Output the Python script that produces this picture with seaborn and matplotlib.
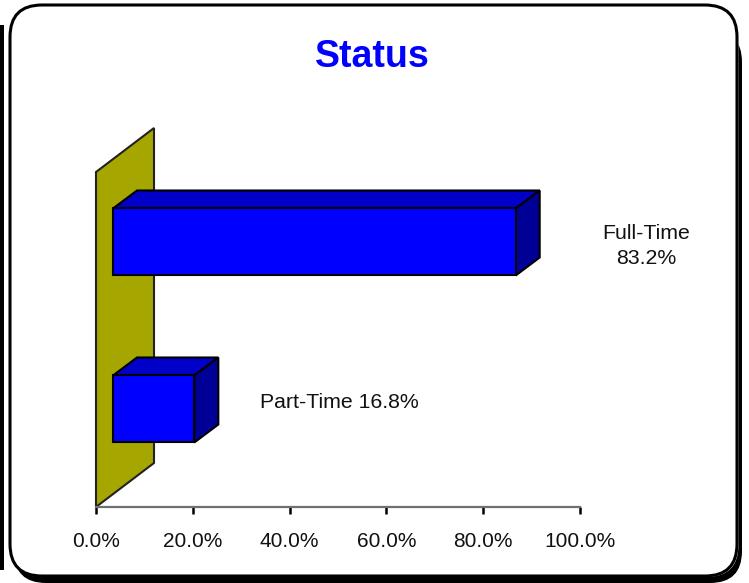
import matplotlib
matplotlib.use("Agg")
import matplotlib.pyplot as plt
from matplotlib.patches import FancyBboxPatch, Polygon, Rectangle
import pandas as pd
import seaborn as sns

categories = ["Full-Time", "Part-Time"]
values = [83.2, 16.8]
tick_values = [0, 20, 40, 60, 80, 100]
tick_labels = ["0.0%", "20.0%", "40.0%", "60.0%", "80.0%", "100.0%"]
title = "Status"

W, H = 749, 583
sns.set_theme(style="white")
plt.rcParams["font.family"] = ["Liberation Sans", "DejaVu Sans"]
fig = plt.figure(figsize=(W / 100, H / 100), dpi=100, facecolor="white")

# pixel-space backdrop for the rounded frame and its shadow
bg = fig.add_axes([0, 0, 1, 1], zorder=0)
bg.set_xlim(0, W)
bg.set_ylim(H, 0)
bg.axis("off")
R = 32
bg.add_patch(FancyBboxPatch((14, 30), 728, 553, boxstyle=f"round,pad=0,rounding_size={R}",
                            fc="black", ec="none"))
bg.add_patch(Rectangle((0, 25), 3.5, 545, fc="black", ec="none"))
bg.add_patch(FancyBboxPatch((10, 5), 728.5, 572, boxstyle=f"round,pad=0,rounding_size={R}",
                            fc="white", ec="none", zorder=1.5))
bg.add_patch(FancyBboxPatch((10, 5), 727, 571, boxstyle=f"round,pad=0,rounding_size={R}",
                            fc="white", ec="black", lw=2.2, zorder=2))

# main axes: x 96..580 px, y 128..507 px
L, Rt, T, B = 96, 580, 128, 507
ax = fig.add_axes([L / W, 1 - B / H, (Rt - L) / W, (B - T) / H], zorder=1, facecolor="none")
pitch = 167.0
y_top_px, band = 242.0, 67.0
ax.set_xlim(0, 100)
ax.set_ylim((B - y_top_px) / pitch, (T - y_top_px) / pitch)

depth_x = 24 / (Rt - L) * 100   # depth offset in x units
depth_y = 18 / pitch            # depth offset in y units
wall_x = 58 / (Rt - L) * 100
wall_y = 44 / pitch
gap = 17 / (Rt - L) * 100       # bars start off the wall
ymin, ymax = ax.get_ylim()

ax.add_patch(Polygon([(0, ymin), (wall_x, ymin - wall_y), (wall_x, ymax), (0, ymax + wall_y)],
                     closed=True, fc="#A6A600", ec="#222222", lw=1.5, zorder=1, clip_on=False))

df = pd.DataFrame({"status": categories, "value": values})
sns.barplot(data=df, y="status", x="value", orient="h", left=gap, width=band / pitch,
            color="#0000FF", saturation=1, edgecolor="black", linewidth=1.5, ax=ax, zorder=4)
ax.set_ylim(ymin, ymax)
ax.set_xlim(0, 100)

for i, v in enumerate(values):
    x0, x1 = gap, gap + v
    yt, yb = i - band / pitch / 2, i + band / pitch / 2
    ax.add_patch(Polygon([(x0, yt), (x0 + depth_x, yt - depth_y), (x1 + depth_x, yt - depth_y), (x1, yt)],
                         closed=True, fc="#0000C8", ec="black", lw=1.5, zorder=3))
    ax.add_patch(Polygon([(x1, yt), (x1 + depth_x, yt - depth_y), (x1 + depth_x, yb - depth_y), (x1, yb)],
                         closed=True, fc="#000096", ec="black", lw=1.5, zorder=3))

ax.set_xticks(tick_values)
ax.set_xticklabels(tick_labels, fontsize=15, color="#111111")
ax.set_yticks([])
ax.set_xlabel("")
ax.set_ylabel("")
for s in ("top", "right", "left"):
    ax.spines[s].set_visible(False)
ax.spines["bottom"].set_color("#707070")
ax.spines["bottom"].set_linewidth(1.6)
ax.tick_params(axis="x", direction="out", length=5, width=1.8, color="black", pad=13, bottom=True)

ax.text(gap + values[0] + 27.0, 0.025, f"{categories[0]}\n{values[0]}%", ha="center", va="center",
        fontsize=15.3, color="#111111", linespacing=1.4)
ax.text(gap + values[1] + 30.0, 1 - 0.04, f"{categories[1]} {values[1]}%", ha="center", va="center",
        fontsize=15.3, color="#111111")

bg.text(372, 57, title, ha="center", va="center", fontsize=27, fontweight="bold", color="#0000FF", zorder=3)

fig.savefig("out.png", dpi=100)
